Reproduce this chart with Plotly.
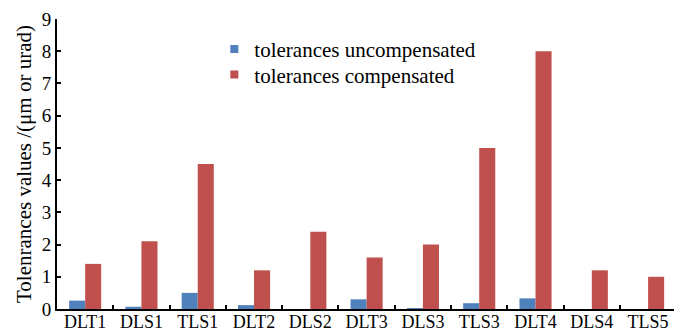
import plotly.graph_objects as go

categories = ["DLT1", "DLS1", "TLS1", "DLT2", "DLS2", "DLT3", "DLS3", "TLS3", "DLT4", "DLS4", "TLS5"]
uncompensated = [0.26, 0.07, 0.5, 0.12, 0.0, 0.3, 0.02, 0.18, 0.33, 0.0, 0.0]
compensated = [1.4, 2.1, 4.5, 1.2, 2.4, 1.6, 2.0, 5.0, 8.0, 1.2, 1.0]
y_ticks = list(range(0, 10))
series_names = ["tolerances uncompensated", "tolerances compensated"]
series_colors = ["#4F81BD", "#C0504D"]

FONT = "Times New Roman, Liberation Serif, DejaVu Serif, serif"

fig = go.Figure()
for vals, name, col in zip([uncompensated, compensated], series_names, series_colors):
    fig.add_trace(go.Bar(x=categories, y=vals, name=name, showlegend=False,
                         marker=dict(color=col, line=dict(width=0))))
# legend entries with small square keys, one legend box per row
for name, col, lg in zip(series_names, series_colors, ["legend", "legend2"]):
    fig.add_trace(go.Scatter(x=[None], y=[None], mode="markers", name=name, legend=lg,
                             marker=dict(symbol="square", size=8, color=col)))

legend_common = dict(xanchor="left", yanchor="middle",
                     font=dict(family=FONT, size=21, color="black"),
                     bgcolor="rgba(0,0,0,0)", itemwidth=30)

fig.update_layout(
    width=674, height=331,
    margin=dict(l=57, r=0, t=19, b=22),
    paper_bgcolor="white", plot_bgcolor="white",
    barmode="group", bargap=0.43, bargroupgap=0,
    font=dict(family=FONT, size=19, color="black"),
    showlegend=True,
    legend=dict(x=0.255, y=0.895, **legend_common),
    legend2=dict(x=0.255, y=0.807, **legend_common),
    xaxis=dict(range=[-0.5, 10.46], showline=True, linecolor="black", linewidth=2,
               ticks="inside", tickson="boundaries", ticklen=4, tickwidth=2, tickcolor="black",
               tickangle=0, tickfont=dict(family=FONT, size=18), ticklabelstandoff=-5,
               showgrid=False, automargin=False),
    yaxis=dict(range=[0, 9], tickvals=y_ticks, showline=True, linecolor="black", linewidth=2,
               ticks="inside", ticklen=4, tickwidth=2, tickcolor="black",
               tickfont=dict(family=FONT, size=19), showgrid=False, zeroline=False,
               title=dict(text="Tolenrances values /(μm or urad)", font=dict(family=FONT, size=21), standoff=4),
               automargin=False),
)

fig.write_html("out.html")
